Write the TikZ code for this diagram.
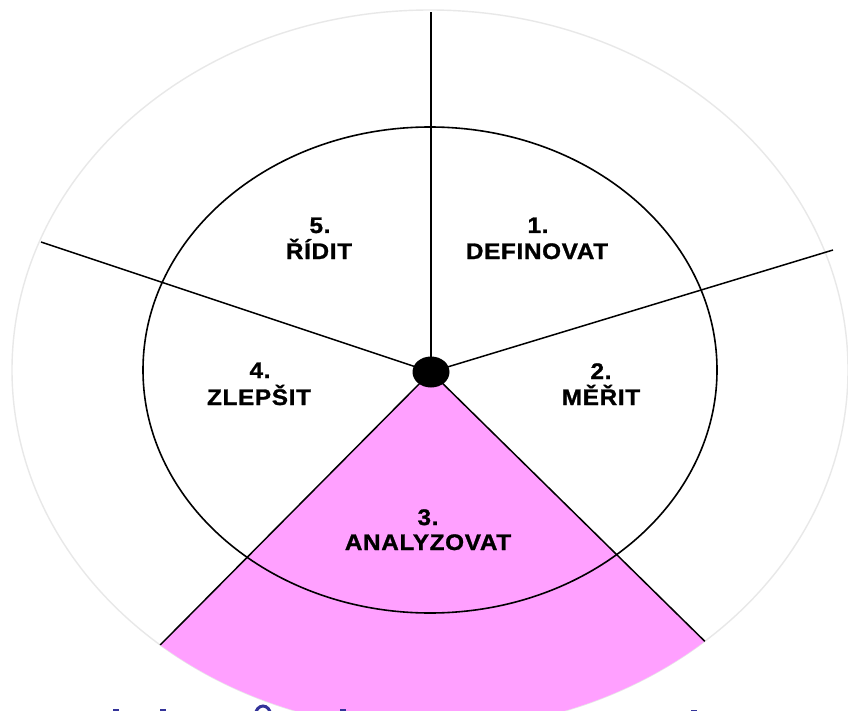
\documentclass[tikz,border=0pt]{standalone}
\usepackage{fontspec}
\usetikzlibrary{shapes.geometric,calc}
\newfontfamily\labfont[FakeStretch=1.08,LetterSpace=3,FakeBold=1.2]{Liberation Sans Bold}
\definecolor{wedgepink}{RGB}{255,160,255}
\definecolor{ringgray}{RGB}{232,232,232}
\definecolor{navy}{RGB}{51,51,153}
\tikzset{
  ringline/.style={draw=ringgray,line width=1.4pt},
  circline/.style={draw=black,line width=1.6pt},
  spoke/.style={draw=black,line width=1.5pt},
  numlab/.style={font=\labfont\fontsize{22.5}{26}\selectfont,anchor=base,inner sep=0pt},
  bluebit/.style={fill=navy,draw=none}
}
\begin{document}
\begin{tikzpicture}[x=1pt,y=-1pt]
\clip (0,0) rectangle (848,711);
\fill[white] (0,0) rectangle (848,711);
\coordinate (C) at (431,372);
\coordinate (O) at (430,370);
% outer ring
\draw[ringline] (O) ellipse[x radius=418,y radius=360];
% pink sector
\coordinate (WL) at ($(O)+(130.2:418 and 360)$);
\coordinate (WR) at ($(O)+(48.9:418 and 360)$);
\fill[wedgepink] (C) -- (WL) arc[start angle=130.2,end angle=48.9,x radius=418,y radius=360] -- cycle;
% inner circle
\draw[circline] (O) ellipse[x radius=287,y radius=243];
% spokes
\coordinate (ST) at (431,12);
\coordinate (SR) at (833,250);
\coordinate (SL) at (41,242);
\draw[spoke] (C) -- (ST);
\draw[spoke] (C) -- (SR);
\draw[spoke] (C) -- (SL);
\draw[spoke] (C) -- (WL);
\draw[spoke] (C) -- (WR);
% hub
\node (hub) [ellipse,fill=black,draw=none,minimum width=37pt,minimum height=31pt,inner sep=0pt] at (C) {};
% labels
\node (n1) [numlab] at (538,233) {1.};
\node (w1) [numlab] at (537,259) {DEFINOVAT};
\node (n2) [numlab] at (601,379) {2.};
\node (w2) [numlab] at (601,405) {MĚŘIT};
\node (n3) [numlab] at (428,525) {3.};
\node (w3) [numlab] at (428,550) {ANALYZOVAT};
\node (n4) [numlab] at (260,378) {4.};
\node (w4) [numlab] at (259,405) {ZLEPŠIT};
\node (n5) [numlab] at (320,233) {5.};
\node (w5) [numlab] at (319,259) {ŘÍDIT};
% cut-off blue text at the bottom edge
\fill[bluebit] (113,708.5) rectangle (119,712);
\fill[bluebit] (160,708.5) rectangle (166,712);
\fill[bluebit] (340,708.5) rectangle (346,712);
\fill[bluebit] (691,709.5) rectangle (697,712);
\draw[navy,line width=3pt] (263,715) ellipse[x radius=7.5,y radius=9];
\end{tikzpicture}
\end{document}
